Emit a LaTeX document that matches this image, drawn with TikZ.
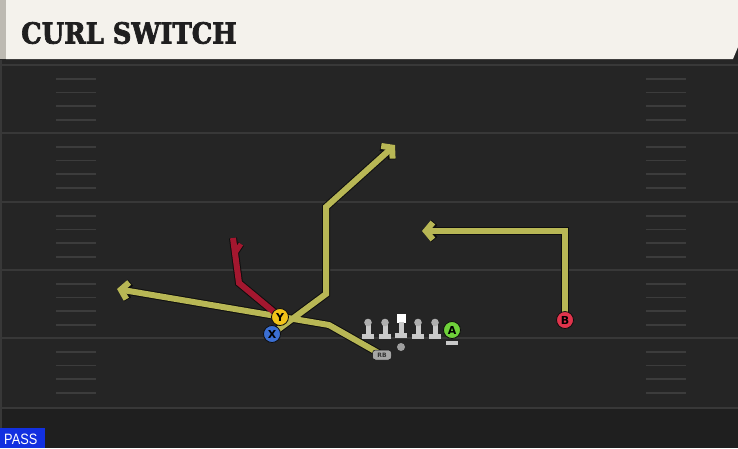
\documentclass[tikz,border=0pt]{standalone}
\usepackage{fontspec}
\setmainfont{DejaVu Sans}
\newfontfamily\titlefont[FakeBold=2.5]{DejaVu Serif}
\newfontfamily\passfont{Liberation Sans}
\usetikzlibrary{arrows.meta}
\definecolor{fieldbg}{HTML}{252525}
\definecolor{fieldlow}{HTML}{1F1F1F}
\definecolor{yardline}{HTML}{383838}
\definecolor{hashc}{HTML}{3C3C3C}
\definecolor{cream}{HTML}{F4F2EC}
\definecolor{creamedge}{HTML}{BDBAB2}
\definecolor{routey}{HTML}{B8B755}
\definecolor{router}{HTML}{A3172F}
\definecolor{outl}{HTML}{0E0E0E}
\definecolor{ycol}{HTML}{F2C318}
\definecolor{xcol}{HTML}{3B6FD2}
\definecolor{acol}{HTML}{6FD23A}
\definecolor{bcol}{HTML}{E0344C}
\definecolor{linec}{HTML}{C9C9C9}
\definecolor{passblue}{HTML}{1230E0}
\tikzset{
  yard/.style={draw=yardline, line width=2pt},
  hashm/.style={draw=hashc, line width=1.6pt},
  routeout/.style={draw=outl, line width=8pt, line join=miter},
  routein/.style={line width=6pt, line join=miter},
  tipout/.style={-{Straight Barb[length=7pt,width=17pt,line width=8pt]}},
  tipin/.style={-{Straight Barb[length=7pt,width=17pt,line width=6pt]}},
  player/.style={circle, draw=outl, line width=0.8pt, minimum size=17pt, inner sep=0pt, font=\fontsize{11}{11}\selectfont\bfseries, text=black},
  lmhead/.style={fill=linec!65!gray},
  lmbody/.style={fill=linec},
}
\begin{document}
\begin{tikzpicture}[x=1pt,y=-1pt]
\useasboundingbox (0,0) rectangle (738,448);
% field
\fill[fieldbg] (0,0) rectangle (738,448);
\fill[fieldlow] (0,408) rectangle (738,448);
\fill[black!85] (0,59) rectangle (738,64);
\draw[yardline, line width=1.5pt] (1,60) -- (1,448);
% yard lines
\foreach \yy in {65,133,202,270,338,408} {
  \draw[yard] (0,\yy) -- (738,\yy);
}
% hash marks
\foreach \yy in {65,133,202,270,338} {
  \foreach \dd in {14,27.5,41,55} {
    \draw[hashm] (56,\yy+\dd) -- (96,\yy+\dd);
    \draw[hashm] (646,\yy+\dd) -- (686,\yy+\dd);
  }
}
% header
\fill[cream] (6,0) -- (738,0) -- (738,47) -- (733,59) -- (6,59) -- cycle;
\fill[creamedge] (0,0) rectangle (6,59);
\node[anchor=west, inner sep=0pt, text=black!88, font=\titlefont\bfseries\fontsize{29}{29}\selectfont] (title) at (21,33) {\scalebox{0.89}[1]{CURL SWITCH}};

% player positions
\coordinate (pX) at (272,334);
\coordinate (pY) at (280,317);
\coordinate (pA) at (452,330);
\coordinate (pB) at (565,320);
\coordinate (pRB) at (382,355);
% route waypoints
\coordinate (x1) at (326,294);
\coordinate (x2) at (326,207);
\coordinate (xend) at (395,145);
\coordinate (r1) at (329,325);
\coordinate (rend) at (117,289);
\coordinate (y1) at (239,283);
\coordinate (yend) at (233,238);
\coordinate (yb1) at (235,253);
\coordinate (yb2) at (241,244);
\coordinate (b1) at (565,231);
\coordinate (bend) at (422,231);

% route outlines
\draw[routeout, tipout] (pX) -- (x1) -- (x2) -- (xend);
\draw[routeout, tipout] (pRB) -- (r1) -- (rend);
\draw[routeout, tipout] (pB) -- (b1) -- (bend);
\draw[routeout] (pY) -- (y1) -- (yend);
\draw[routeout, line width=7pt] (yb1) -- (yb2);
% route colours
\draw[routein, tipin, routey] (pX) -- (x1) -- (x2) -- (xend);
\draw[routein, tipin, routey] (pRB) -- (r1) -- (rend);
\draw[routein, tipin, routey] (pB) -- (b1) -- (bend);
\draw[routein, router] (pY) -- (y1) -- (yend);
\draw[routein, router, line width=5pt] (yb1) -- (yb2);

% offensive line
\foreach \lx [count=\i] in {368,385,418,435} {
  \fill[lmbody] (\lx-2.5,323) rectangle (\lx+2.5,335);
  \fill[lmbody] (\lx-6,334) rectangle (\lx+6,339);
  \fill[lmhead] (\lx,322.5) circle (3.8pt);
}
\node[fill=white, minimum size=9pt, inner sep=0pt] (center) at (401,318.5) {};
\fill[lmbody] (398.5,322) rectangle (403.5,334);
\fill[lmbody] (395,333) rectangle (407,338);
\node[circle, fill=gray!75, minimum size=8pt, inner sep=0pt] (qb) at (401,347) {};
% A base
\fill[lmbody] (446,340.5) rectangle (458,345);

% RB tag
\node[rounded corners=3pt, fill=gray!70, draw=outl, line width=0.5pt, minimum width=19pt, minimum height=10pt, inner sep=0pt, font=\fontsize{6}{6}\selectfont\bfseries, text=black!80] (RB) at (pRB) {RB};

% players
\node[player, fill=xcol] (X) at (pX) {X};
\node[player, fill=ycol] (Y) at (pY) {Y};
\node[player, fill=acol] (A) at (pA) {A};
\node[player, fill=bcol] (B) at (pB) {B};

% pass label
\fill[passblue] (0,428) rectangle (45,448);
\node[anchor=west, inner sep=0pt, text=white, font=\passfont\fontsize{15}{15}\selectfont] (pass) at (4,439) {\scalebox{0.85}[1]{PASS}};
\end{tikzpicture}
\end{document}
